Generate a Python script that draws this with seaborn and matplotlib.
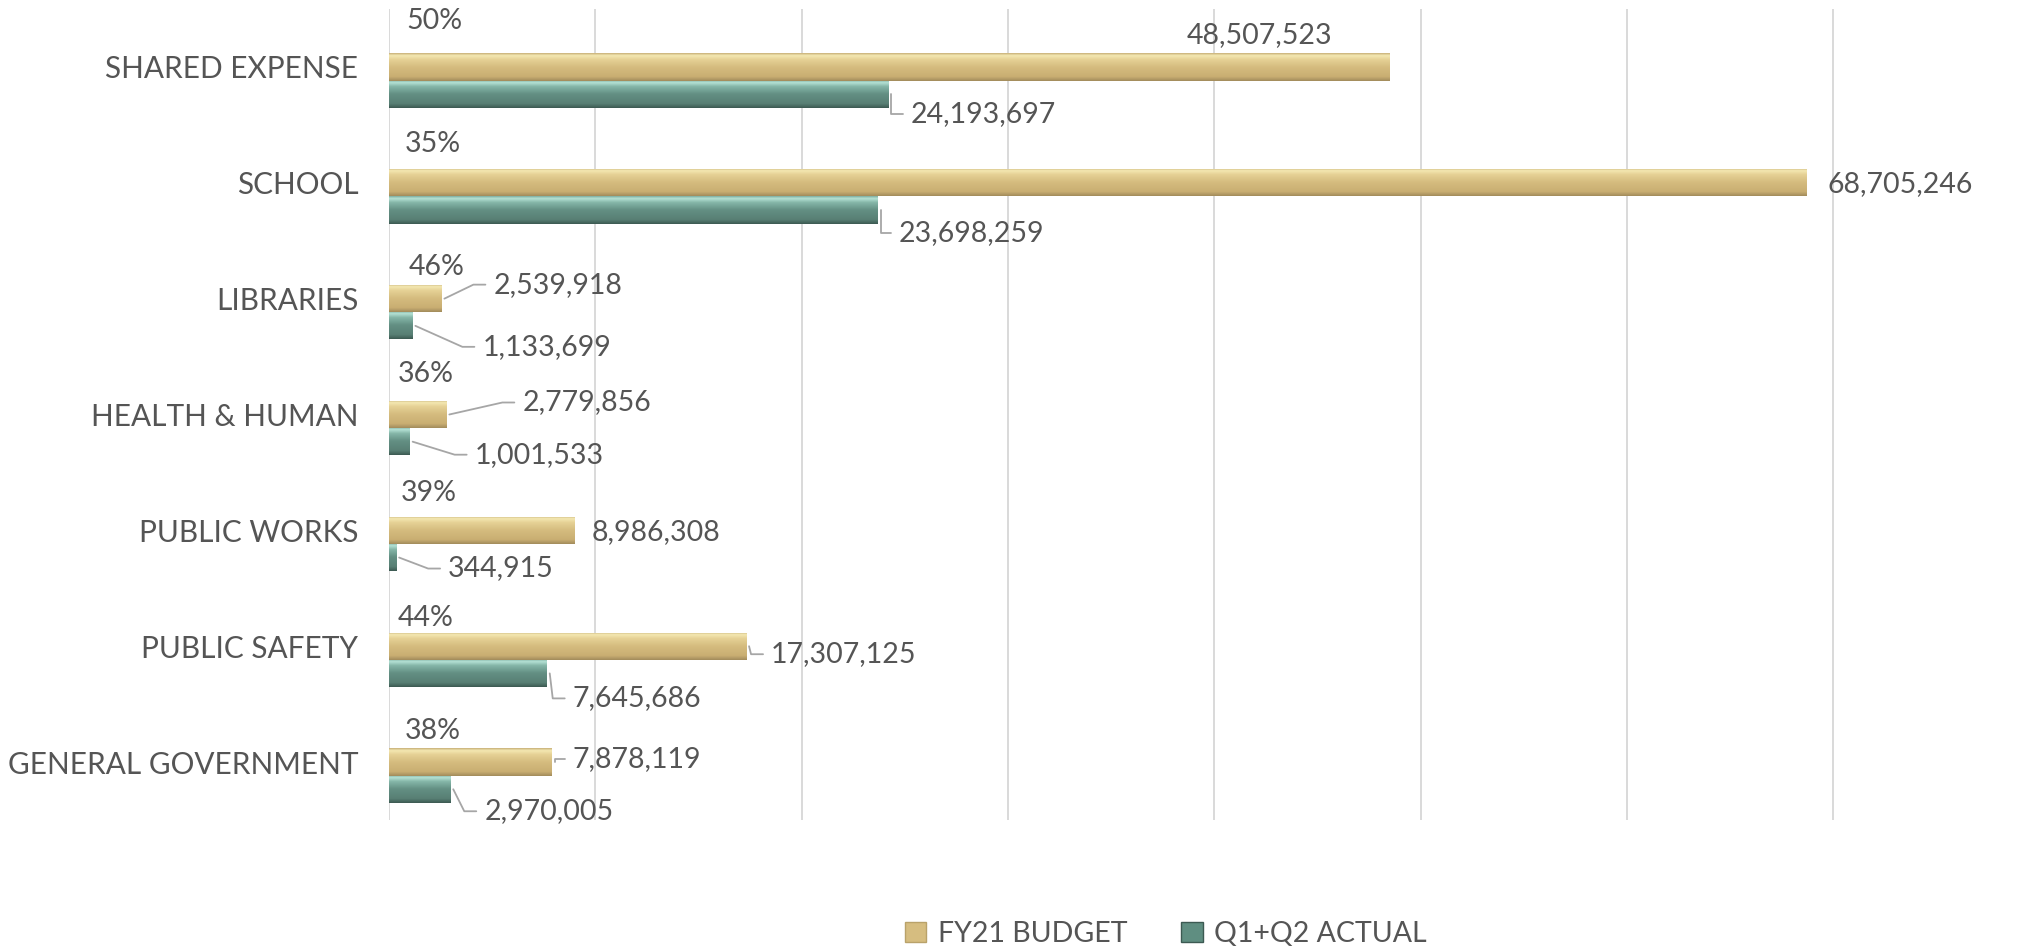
import numpy as np
import pandas as pd
import matplotlib
matplotlib.use("Agg")
import matplotlib.pyplot as plt
import seaborn as sns
from matplotlib.lines import Line2D
from matplotlib.patches import Patch
from matplotlib.colors import LinearSegmentedColormap
from matplotlib.transforms import IdentityTransform

# ---------------- data ----------------
categories = ["SHARED EXPENSE", "SCHOOL", "LIBRARIES", "HEALTH & HUMAN",
              "PUBLIC WORKS", "PUBLIC SAFETY", "GENERAL GOVERNMENT"]
budget = [48507523, 68705246, 2539918, 2779856, 8986308, 17307125, 7878119]
actual = [24193697, 23698259, 1133699, 1001533, 344915, 7645686, 2970005]
pct_labels = ["50%", "35%", "46%", "36%", "39%", "44%", "38%"]
series_names = ["PCT", "FY21 BUDGET", "Q1+Q2 ACTUAL"]

# ---------------- styling ----------------
GOLD = "#D6BD80"
TEAL = "#5F8E81"
TXT = "#555555"
GRID = "#D9D9D9"
FONT = ["Lato", "DejaVu Sans"]

# label offsets in pixels (dx to text left, dy down) relative to bar end
budget_off = [(-203, -32), (21, 1), (52, -14), (76, -12), (17, 2), (25, 8), (21, -3)]
budget_leader = [False, False, True, True, False, True, True]
actual_off = [(23, 20), (21, 23), (70, 21), (65, 13), (52, 11), (26, 25), (34, 22)]
actual_leader = [True, True, True, True, True, True, True]
pct_off = [(45, -46), (44, -39), (48, -32), (37, -40), (40, -37), (37, -28), (44, -31)]

sns.set_theme(style="white")
plt.rcParams["font.family"] = FONT

df = pd.DataFrame({
    "category": categories * 3,
    "series": [series_names[0]] * 7 + [series_names[1]] * 7 + [series_names[2]] * 7,
    "value": [0] * 7 + budget + actual,
})

W, H = 2032, 950
fig = plt.figure(figsize=(W / 100, H / 100), dpi=100)
ax = fig.add_axes([389 / W, 130 / H, (W - 389) / W, 811 / H])

sns.barplot(data=df, y="category", x="value", hue="series", hue_order=series_names,
            order=categories, palette=["#FFFFFF", GOLD, TEAL], width=0.704,
            orient="h", saturation=1, linewidth=0, legend=False, ax=ax)

XMAX = 79.64e6
ax.set_xlim(0, XMAX)
ax.set_ylim(6.5, -0.5)
ax.set_xticks(np.arange(0, 70e6 + 1, 10e6))
ax.tick_params(axis="x", length=0, labelbottom=False)
ax.tick_params(axis="y", length=0, pad=22, labelsize=21.4, labelcolor=TXT)
for lab in ax.get_yticklabels():
    lab.set_fontfamily(FONT)
ax.set_xlabel("")
ax.set_ylabel("")
ax.grid(axis="x", color=GRID, linewidth=1.4)
ax.set_axisbelow(True)
for s in ["top", "right", "bottom", "left"]:
    ax.spines[s].set_visible(False)

# bevel-like gradients over bars
def grad_cmap(cols):
    return LinearSegmentedColormap.from_list("g", cols)

gold_cmap = grad_cmap([(0.0, "#C9B27A"), (0.08, "#F4E8B2"), (0.22, "#E6D296"),
                       (0.5, "#D5BC7F"), (0.85, "#C9AE72"), (1.0, "#A38C5C")])
teal_cmap = grad_cmap([(0.0, "#7FAFA2"), (0.08, "#B5E2D5"), (0.22, "#86B7A9"),
                       (0.5, "#638F83"), (0.85, "#587F74"), (1.0, "#3C5A52")])
grad = np.linspace(0, 1, 64).reshape(-1, 1)
for cont, cmap in zip(ax.containers[1:], [gold_cmap, teal_cmap]):
    for patch in cont.patches:
        x0, y0 = patch.get_x(), patch.get_y()
        w, h = patch.get_width(), patch.get_height()
        if w <= 0:
            continue
        im = ax.imshow(grad, extent=(x0, x0 + w, y0 + h, y0), origin="upper",
                       aspect="auto", cmap=cmap, interpolation="bilinear",
                       zorder=patch.get_zorder() + 0.1)
        im.set_clip_path(patch)
ax.set_xlim(0, XMAX)
ax.set_ylim(6.5, -0.5)

# labels
bar_h = 0.704 / 3
fig.canvas.draw()
to_disp = ax.transData.transform

def add_label(val, ypos, text, off, leader):
    bx, by = to_disp((val, ypos))
    dx, dy = off
    tx, ty = bx + dx, by - dy
    fig.text(tx, ty, text, transform=IdentityTransform(), ha="left", va="center",
             fontsize=20.5, color=TXT, family=FONT)
    if leader:
        sx = bx + 3
        cx = max(bx + dx - 20, sx)
        ex = bx + dx - 8
        fig.add_artist(Line2D([sx, cx, ex], [by, ty, ty], transform=IdentityTransform(),
                              color="#A6A6A6", linewidth=1.3))

for i in range(len(categories)):
    add_label(budget[i], i, f"{budget[i]:,}", budget_off[i], budget_leader[i])
    add_label(actual[i], i + bar_h, f"{actual[i]:,}", actual_off[i], actual_leader[i])
    px, py = to_disp((0, i))
    fig.text(px + pct_off[i][0], py - pct_off[i][1], pct_labels[i], transform=IdentityTransform(),
             ha="center", va="center", fontsize=20.5, color=TXT, family=FONT)

handles = [Patch(facecolor=GOLD, edgecolor="#B9A26A", label=series_names[1]),
           Patch(facecolor=TEAL, edgecolor="#3C5A52", label=series_names[2])]
fig.legend(handles=handles, loc="center", bbox_to_anchor=(1166 / W, 16 / H), ncol=2,
           frameon=False, handlelength=0.75, handleheight=0.75,
           handletextpad=0.4, columnspacing=1.9, labelcolor=TXT,
           prop={"family": FONT, "size": 20.5})

fig.savefig("out.png", dpi=100)
